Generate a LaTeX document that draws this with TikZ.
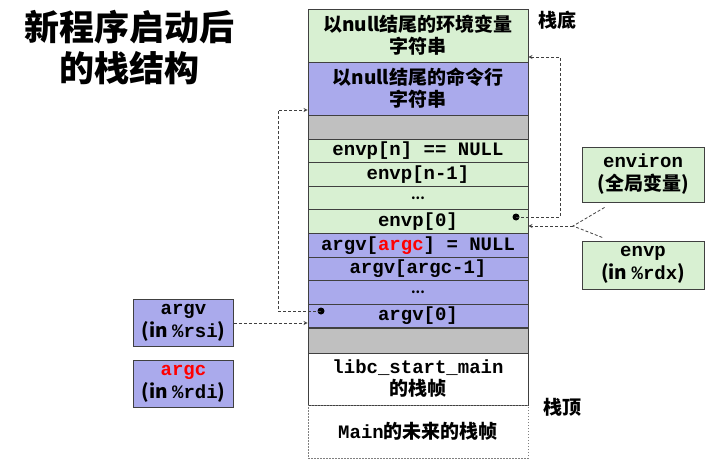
\documentclass[tikz,border=0pt]{standalone}
\usepackage{fontspec}
\setmainfont{Noto Sans CJK SC}
\setmonofont{Liberation Mono}
\usetikzlibrary{arrows,positioning,calc}
\definecolor{envgreen}{RGB}{216,240,210}
\definecolor{argpurple}{RGB}{170,170,236}
\definecolor{gapgray}{RGB}{192,192,192}
\definecolor{edgegray}{RGB}{64,64,64}
\newcommand{\rowdots}{{\fontsize{13}{13}\selectfont ...}}

\begin{document}
\begin{tikzpicture}[x=1pt, y=-1pt,
    slot/.style={rectangle, draw=edgegray, line width=0.9pt, minimum width=220pt, inner sep=0pt, align=center, font=\fontsize{19}{22}\selectfont\bfseries},
    envslot/.style={slot, fill=envgreen, minimum height=23.6pt},
    argslot/.style={slot, fill=argpurple, minimum height=23.6pt},
    gapslot/.style={slot, fill=gapgray},
    regbox/.style={rectangle, draw=edgegray, line width=0.9pt, minimum width=100pt, minimum height=47pt, inner sep=0pt, align=center, font=\fontsize{19}{23}\selectfont\bfseries},
    ptr/.style={->, >=stealth, dash pattern=on 3pt off 2pt, edgegray, line width=0.8pt},
    stackmark/.style={font=\fontsize{19}{22}\selectfont\bfseries}
]
\useasboundingbox (0,0) rectangle (709,476);

% Title
\node[align=center, font=\fontsize{35}{41}\selectfont\bfseries] (title) at (129,48) {新程序启动后\\的栈结构};

% Stack
\node[slot, fill=envgreen, minimum height=53pt] (envstr) at (418,35.5) {以null结尾的环境变量\\字符串};
\node[slot, fill=argpurple, minimum height=53pt] (cmdstr) at (418,88.5) {以null结尾的命令行\\字符串};
\node[gapslot, minimum height=24pt] (gap1) at (418,127) {};
\node[envslot] (envn) at (418,150.8) {\ttfamily envp[n] == NULL};
\node[envslot] (envn1) at (418,174.4) {\ttfamily envp[n-1]};
\node[envslot] (envdots) at (418,198) {\rowdots};
\node[envslot] (env0) at (418,221.6) {\ttfamily envp[0]};
\node[argslot] (argvn) at (418,245.2) {\ttfamily argv[\textcolor{red}{argc}] = NULL};
\node[argslot] (argvn1) at (418,268.8) {\ttfamily argv[argc-1]};
\node[argslot] (argvdots) at (418,292.4) {\rowdots};
\node[argslot] (argv0) at (418,316) {\ttfamily argv[0]};
\node[gapslot, minimum height=25pt] (gap2) at (418,340.5) {};
\node[slot, fill=white, minimum height=52pt] (libc) at (418,379) {{\ttfamily libc\_start\_main}\\的栈帧};
\node[slot, draw=gray, dash pattern=on 1.5pt off 1.5pt, minimum height=53pt] (mainf) at (418,431.5) {{\ttfamily Main}的未来的栈帧};

% Stack ends
\node[stackmark] (bottom) at (557,20) {栈底};
\node[stackmark] (top) at (562,407) {栈顶};

% Registers and globals
\node[regbox, fill=argpurple] (argvreg) at (183.5,323) {{\ttfamily argv}\\(in {\ttfamily\%rsi})};
\node[regbox, fill=argpurple] (argcreg) at (183.5,384) {{\ttfamily\textcolor{red}{argc}}\\(in {\ttfamily\%rdi})};
\node[regbox, fill=envgreen, minimum width=122pt, minimum height=55pt] (environ) at (643,174.5) {{\ttfamily environ}\\(全局变量)};
\node[regbox, fill=envgreen, minimum width=122pt, minimum height=48pt] (envpreg) at (643,265) {{\ttfamily envp}\\(in {\ttfamily\%rdx})};

% Pointers
\coordinate (argvdot) at (321,311);
\coordinate (envdot) at (516,217);
\coordinate (cmdin) at ($(cmdstr.west)+(0,21.5)$);
\coordinate (envin) at ($(envstr.east)+(0,21.5)$);
\coordinate (meet) at (573,226);
\fill[black] (argvdot) circle (3.5pt);
\fill[black] (envdot) circle (3.5pt);
\draw[ptr] (argvdot) -- ++(-43,0) |- (cmdin);
\draw[ptr] (envdot) -- ++(44,0) |- (envin);
\draw[ptr] (argvreg.east) -- (argvreg.east -| argv0.west);
\draw[dash pattern=on 3pt off 2pt, edgegray, line width=0.8pt] ($(environ.south west)+(23,5)$) -- (meet) -- ($(envpreg.north west)+(21,-3)$);
\draw[ptr] (meet) -- (meet -| env0.east);

\end{tikzpicture}
\end{document}
